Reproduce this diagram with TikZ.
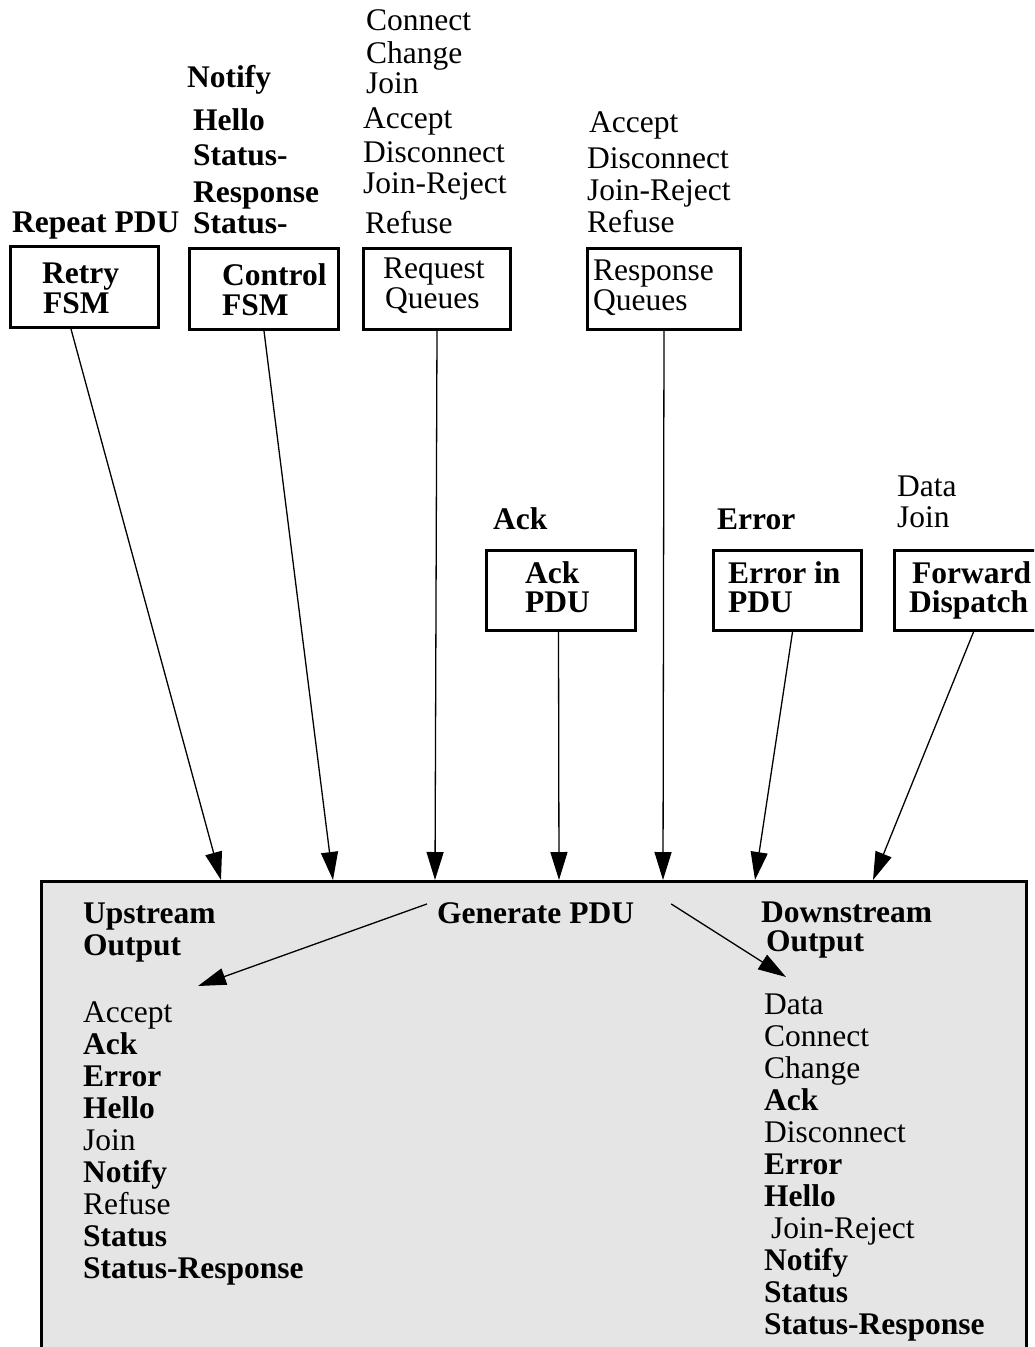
\documentclass[tikz,border=0pt]{standalone}
\usepackage{fontspec}
\setmainfont{Liberation Serif}
\usetikzlibrary{arrows.meta}
\definecolor{boxgray}{RGB}{229,229,229}
\begin{document}
\begin{tikzpicture}[x=1pt,y=-1pt,
  txt/.style={anchor=base west, inner sep=0pt, font=\fontsize{31.5}{34}\selectfont},
  btxt/.style={anchor=base west, inner sep=0pt, font=\fontsize{31.5}{34}\selectfont\bfseries},
  fbox/.style={draw, line width=3pt, anchor=north west, inner sep=0pt},
  arr/.style={-{Triangle[length=28pt,width=17pt]}, line width=1.3pt}]
\useasboundingbox (0,0) rectangle (1034,1347);
\clip (0,0) rectangle (1034,1347);
\fill[white] (0,0) rectangle (1034,1347);

% ---------- source modules ----------
\node[fbox, minimum width=148pt, minimum height=81pt] (retry)   at (9,245)   {};
\node[fbox, minimum width=149pt, minimum height=81pt] (control) at (188,247) {};
\node[fbox, minimum width=147pt, minimum height=81pt] (reqq)    at (362,247) {};
\node[fbox, minimum width=153pt, minimum height=81pt] (respq)   at (586,247) {};
\node[fbox, minimum width=149pt, minimum height=80pt] (ackpdu)  at (485,549) {};
\node[fbox, minimum width=148pt, minimum height=80pt] (errpdu)  at (712,549) {};
\node[fbox, minimum width=170pt, minimum height=80pt] (fwd)     at (893,549) {};

% module titles
\node[btxt] (retryA) at (42,283)  {Retry};
\node[btxt] (retryB) at (43,313)  {FSM};
\node[btxt] (ctrlA)  at (222,285) {Control};
\node[btxt] (ctrlB)  at (222,315) {FSM};
\node[txt]  (reqA)   at (383,278) {Request};
\node[txt]  (reqB)   at (385,308) {Queues};
\node[txt]  (respA)  at (593,280) {Response};
\node[txt]  (respB)  at (593,310) {Queues};
\node[btxt] (ackA)   at (525,583) {Ack};
\node[btxt] (ackB)   at (525,612) {PDU};
\node[btxt] (errA)   at (728,583) {Error in};
\node[btxt] (errB)   at (728,612) {PDU};
\node[btxt] (fwdA)   at (912,583) {Forward};
\node[btxt] (fwdB)   at (909,612) {Dispatch};

% PDU types produced by each module
\node[btxt] (rp)  at (12,232)  {Repeat PDU};
\node[btxt] (c1)  at (187,87)  {Notify};
\node[btxt] (c2)  at (193,130) {Hello};
\node[btxt] (c3)  at (193,165) {Status-};
\node[btxt] (c4)  at (193,202) {Response};
\node[btxt] (c5)  at (193,233) {Status-};
\node[txt]  (q1)  at (366,30)  {Connect};
\node[txt]  (q2)  at (366,63)  {Change};
\node[txt]  (q3)  at (366,93)  {Join};
\node[txt]  (q4)  at (363,128) {Accept};
\node[txt]  (q5)  at (363,162) {Disconnect};
\node[txt]  (q6)  at (363,193) {Join-Reject};
\node[txt]  (q7)  at (365,233) {Refuse};
\node[txt]  (r1)  at (589,132) {Accept};
\node[txt]  (r2)  at (587,168) {Disconnect};
\node[txt]  (r3)  at (587,200) {Join-Reject};
\node[txt]  (r4)  at (587,232) {Refuse};
\node[btxt] (ak)  at (493,529) {Ack};
\node[btxt] (er)  at (717,529) {Error};
\node[txt]  (d1)  at (897,496) {Data};
\node[txt]  (d2)  at (897,527) {Join};

% ---------- output stage ----------
\node[fbox, line width=2.5pt, fill=boxgray, minimum width=985pt, minimum height=520pt] (gen) at (40,880) {};

\node[btxt] (upA)    at (83,923)  {Upstream};
\node[btxt] (upB)    at (83,955)  {Output};
\node[btxt] (genlbl) at (437,923) {Generate PDU};
\node[btxt] (dnA)    at (761,922) {Downstream};
\node[btxt] (dnB)    at (766,951) {Output};

\foreach \t/\f [count=\i] in {Accept/\mdseries, Ack/\bfseries, Error/\bfseries,
    Hello/\bfseries, Join/\mdseries, Notify/\bfseries, Refuse/\mdseries,
    Status/\bfseries, Status-Response/\bfseries}
  \node[txt] (up\i) at (83,990+32*\i) {\f\t};

\foreach \t/\f/\x [count=\i] in {Data/\mdseries/764, Connect/\mdseries/764,
    Change/\mdseries/764, Ack/\bfseries/764, Disconnect/\mdseries/764,
    Error/\bfseries/764, Hello/\bfseries/764, Join-Reject/\mdseries/771,
    Notify/\bfseries/764, Status/\bfseries/764, Status-Response/\bfseries/764}
  \node[txt] (dn\i) at (\x,982+32*\i) {\f\t};

% entry points on the output stage
\coordinate (in1) at (221,880);
\coordinate (in2) at (333,880);
\coordinate (in3) at (435,880);
\coordinate (in4) at (559,880);
\coordinate (in5) at (663,880);
\coordinate (in6) at (755,880);
\coordinate (in7) at (873,880);
\coordinate (upout) at (198,986);
\coordinate (dnout) at (786,977);

% ---------- connectors ----------
\draw[arr] ([xshift=-13.5pt]retry.south) -- (in1);
\draw[arr] (control.south) -- (in2);
\draw[arr] (reqq.south) -- (in3);
\draw[arr] ([xshift=-2.5pt]ackpdu.south) -- (in4);
\draw[arr] (respq.south) -- (in5);
\draw[arr] ([xshift=5pt]errpdu.south) -- (in6);
\draw[arr] ([xshift=-6pt]fwd.south) -- (in7);

\draw[arr] ([xshift=-10pt,yshift=-2pt]genlbl.north west) -- (upout);
\draw[arr] ([xshift=37pt,yshift=-2pt]genlbl.north east) -- (dnout);
\end{tikzpicture}
\end{document}
